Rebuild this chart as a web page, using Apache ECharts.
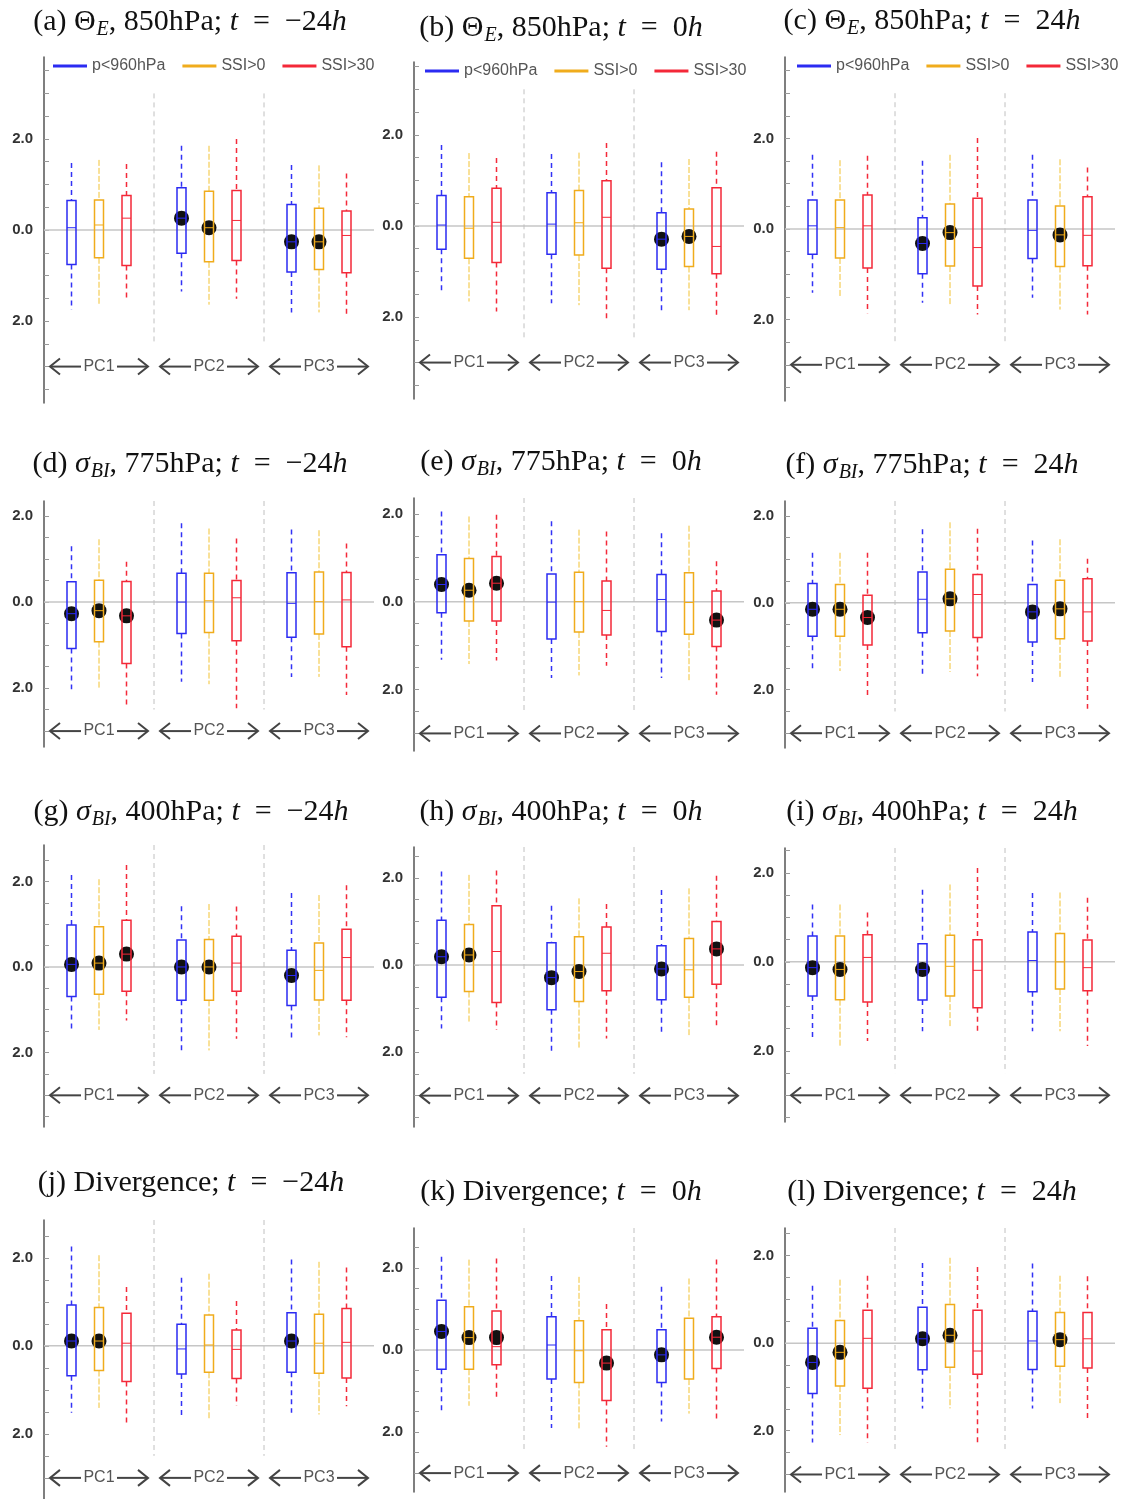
<!DOCTYPE html>
<html>
<head>
<meta charset="utf-8">
<title>PC box plots</title>
<script src="https://cdn.jsdelivr.net/npm/echarts@6/dist/echarts.min.js"></script>
<style>
  html, body { margin: 0; padding: 0; background: #fff; }
  #chart { width: 1121px; height: 1499px; }
</style>
</head>
<body>
<div id="chart"></div>
<script>
const seriesNames = ['p<960hPa', 'SSI>0', 'SSI>30']
const groupLabels = ['PC1', 'PC2', 'PC3']
const yLabels = [-2, 0, 2]

// one row per box: [whisker low, q1, median, q3, whisker high]
// order: PC1 (blue, orange, red), PC2 (...), PC3 (...)
const boxA = [
  [-1.75, -0.76, 0.05, 0.65, 1.47], [-1.64, -0.61, 0.11, 0.66, 1.54], [-1.53, -0.78, 0.26, 0.76, 1.45],
  [-1.35, -0.51, 0.26, 0.93, 1.85], [-1.64, -0.70, 0.05, 0.85, 1.85], [-1.51, -0.67, 0.21, 0.87, 2.00],
  [-1.81, -0.92, -0.26, 0.56, 1.43], [-1.81, -0.87, -0.26, 0.48, 1.42], [-1.90, -0.94, -0.12, 0.42, 1.24]
]
const boxB = [
  [-1.48, -0.51, 0.02, 0.67, 1.78], [-1.66, -0.71, -0.05, 0.64, 1.60], [-1.88, -0.80, 0.08, 0.83, 1.49],
  [-1.70, -0.62, 0.04, 0.73, 1.58], [-1.74, -0.64, 0.07, 0.78, 1.61], [-2.03, -0.93, 0.19, 0.99, 1.82],
  [-1.85, -0.95, -0.29, 0.29, 1.40], [-1.85, -0.89, -0.23, 0.37, 1.47], [-1.98, -1.05, -0.45, 0.84, 1.63]
]
const boxC = [
  [-1.41, -0.56, 0.07, 0.64, 1.64], [-1.52, -0.64, 0.03, 0.64, 1.52], [-1.86, -0.86, 0.07, 0.75, 1.62],
  [-1.63, -0.99, -0.32, 0.25, 1.51], [-1.67, -0.82, -0.08, 0.55, 1.64], [-1.89, -1.26, -0.41, 0.68, 2.01],
  [-1.52, -0.65, -0.03, 0.64, 1.64], [-1.78, -0.83, -0.13, 0.51, 1.54], [-1.89, -0.81, -0.14, 0.71, 1.36]
]
const boxD = [
  [-2.03, -1.08, -0.27, 0.47, 1.30], [-2.00, -0.92, -0.20, 0.51, 1.46], [-2.43, -1.43, -0.32, 0.48, 0.94],
  [-1.85, -0.73, 0.00, 0.67, 1.83], [-1.91, -0.71, 0.03, 0.67, 1.71], [-2.47, -0.90, 0.10, 0.50, 1.48],
  [-1.74, -0.82, -0.03, 0.68, 1.69], [-1.74, -0.74, 0.01, 0.70, 1.67], [-2.16, -1.04, 0.05, 0.69, 1.36]
]
const boxE = [
  [-1.32, -0.25, 0.39, 1.07, 2.05], [-1.42, -0.44, 0.26, 0.98, 1.94], [-1.34, -0.44, 0.42, 1.03, 1.98],
  [-1.74, -0.85, -0.01, 0.63, 1.83], [-1.68, -0.69, 0.00, 0.67, 1.64], [-1.46, -0.76, -0.20, 0.47, 1.60],
  [-1.74, -0.68, 0.05, 0.62, 1.56], [-1.80, -0.74, -0.02, 0.66, 1.73], [-2.12, -1.02, -0.42, 0.24, 0.92]
]
const boxF = [
  [-1.59, -0.77, -0.15, 0.44, 1.15], [-1.57, -0.77, -0.15, 0.42, 1.15], [-2.15, -0.97, -0.34, 0.17, 1.15],
  [-1.65, -0.69, 0.08, 0.71, 1.69], [-1.59, -0.65, 0.09, 0.77, 1.85], [-1.69, -0.80, 0.19, 0.65, 1.70],
  [-1.82, -0.90, -0.21, 0.42, 1.43], [-1.75, -0.83, -0.14, 0.52, 1.46], [-2.44, -0.88, -0.21, 0.55, 1.01]
]
const boxG = [
  [-1.48, -0.69, 0.06, 0.98, 2.15], [-1.47, -0.64, 0.09, 0.94, 2.05], [-1.25, -0.57, 0.30, 1.09, 2.38],
  [-1.99, -0.78, 0.00, 0.63, 1.42], [-1.95, -0.78, 0.00, 0.64, 1.47], [-1.68, -0.57, 0.09, 0.72, 1.41],
  [-1.68, -0.90, -0.20, 0.39, 1.73], [-1.60, -0.77, -0.08, 0.56, 1.68], [-1.64, -0.78, 0.22, 0.88, 1.91]
]
const boxH = [
  [-1.46, -0.74, 0.19, 1.03, 2.15], [-1.30, -0.61, 0.23, 0.93, 2.07], [-1.49, -0.86, 0.31, 1.36, 2.17],
  [-2.03, -1.03, -0.29, 0.51, 1.36], [-1.94, -0.84, -0.15, 0.65, 1.53], [-1.69, -0.59, 0.27, 0.87, 1.40],
  [-1.61, -0.80, -0.09, 0.44, 1.72], [-1.61, -0.74, -0.11, 0.61, 1.76], [-1.42, -0.44, 0.37, 1.00, 2.05]
]
const boxI = [
  [-1.78, -0.77, -0.13, 0.58, 1.29], [-1.93, -0.85, -0.17, 0.58, 1.29], [-1.78, -0.90, 0.10, 0.61, 1.11],
  [-1.56, -0.86, -0.17, 0.41, 1.62], [-1.48, -0.77, -0.10, 0.60, 1.74], [-1.56, -1.03, -0.19, 0.50, 2.11],
  [-1.56, -0.67, 0.03, 0.67, 1.55], [-1.56, -0.61, 0.00, 0.64, 1.56], [-1.89, -0.65, -0.13, 0.49, 1.44]
]
const boxJ = [
  [-1.52, -0.68, 0.11, 0.93, 2.26], [-1.41, -0.56, 0.11, 0.87, 2.06], [-1.82, -0.81, 0.06, 0.74, 1.34],
  [-1.58, -0.64, -0.07, 0.49, 1.55], [-1.67, -0.60, 0.02, 0.70, 1.64], [-1.36, -0.74, -0.08, 0.36, 1.02],
  [-1.52, -0.60, 0.11, 0.75, 1.96], [-1.56, -0.62, 0.06, 0.72, 1.91], [-1.37, -0.73, 0.08, 0.85, 1.78]
]
const boxK = [
  [-1.47, -0.47, 0.45, 1.21, 2.27], [-1.36, -0.47, 0.30, 1.05, 2.20], [-1.23, -0.36, 0.08, 0.95, 2.23],
  [-1.90, -0.71, 0.12, 0.81, 1.80], [-1.94, -0.79, -0.02, 0.71, 1.78], [-2.36, -1.23, -0.32, 0.49, 1.12],
  [-1.74, -0.79, -0.12, 0.49, 1.54], [-1.55, -0.71, 0.00, 0.77, 1.74], [-1.70, -0.45, 0.31, 0.81, 2.20]
]
const boxL = [
  [-2.27, -1.15, -0.44, 0.34, 1.31], [-2.10, -0.98, -0.21, 0.52, 1.45], [-2.27, -1.03, 0.11, 0.75, 1.54],
  [-1.49, -0.61, 0.10, 0.82, 1.83], [-1.49, -0.55, 0.18, 0.88, 1.95], [-2.29, -0.71, -0.18, 0.75, 1.74],
  [-1.49, -0.60, 0.05, 0.73, 1.82], [-1.37, -0.53, 0.08, 0.70, 1.54], [-1.72, -0.57, 0.10, 0.70, 1.53]
]

// black markers (null = no marker), same order as the boxes
const dotA = [null, null, null, 0.26, 0.05, null, -0.26, -0.26, null]
const dotB = [null, null, null, null, null, null, -0.29, -0.23, null]
const dotC = [null, null, null, -0.32, -0.08, null, null, -0.13, null]
const dotD = [-0.27, -0.20, -0.32, null, null, null, null, null, null]
const dotE = [0.39, 0.26, 0.42, null, null, null, null, null, -0.42]
const dotF = [-0.15, -0.15, -0.34, null, 0.09, null, -0.21, -0.14, null]
const dotG = [0.06, 0.09, 0.30, 0.00, 0.00, null, -0.20, null, null]
const dotH = [0.19, 0.23, null, -0.29, -0.15, null, -0.09, null, 0.37]
const dotI = [-0.13, -0.17, null, -0.17, null, null, null, null, null]
const dotJ = [0.11, 0.11, null, null, null, null, 0.11, null, null]
const dotK = [0.45, 0.30, 0.30, null, null, -0.32, -0.12, null, 0.31]
const dotL = [-0.44, -0.21, null, 0.10, 0.18, null, null, 0.08, null]

const panelTitles = [
  '{r|(a) Θ}{sub|E}{r|, 850hPa; }{i|t}{r|\u2002=\u2002−24}{i|h}',
  '{r|(b) Θ}{sub|E}{r|, 850hPa; }{i|t}{r|\u2002=\u20020}{i|h}',
  '{r|(c) Θ}{sub|E}{r|, 850hPa; }{i|t}{r|\u2002=\u200224}{i|h}',
  '{r|(d) }{i|σ}{sub|BI}{r|, 775hPa; }{i|t}{r|\u2002=\u2002−24}{i|h}',
  '{r|(e) }{i|σ}{sub|BI}{r|, 775hPa; }{i|t}{r|\u2002=\u20020}{i|h}',
  '{r|(f) }{i|σ}{sub|BI}{r|, 775hPa; }{i|t}{r|\u2002=\u200224}{i|h}',
  '{r|(g) }{i|σ}{sub|BI}{r|, 400hPa; }{i|t}{r|\u2002=\u2002−24}{i|h}',
  '{r|(h) }{i|σ}{sub|BI}{r|, 400hPa; }{i|t}{r|\u2002=\u20020}{i|h}',
  '{r|(i) }{i|σ}{sub|BI}{r|, 400hPa; }{i|t}{r|\u2002=\u200224}{i|h}',
  '{r|(j) Divergence; }{i|t}{r|\u2002=\u2002−24}{i|h}',
  '{r|(k) Divergence; }{i|t}{r|\u2002=\u20020}{i|h}',
  '{r|(l) Divergence; }{i|t}{r|\u2002=\u200224}{i|h}'
]
const panelBoxes = [boxA, boxB, boxC, boxD, boxE, boxF, boxG, boxH, boxI, boxJ, boxK, boxL]
const panelDots = [dotA, dotB, dotC, dotD, dotE, dotF, dotG, dotH, dotI, dotJ, dotK, dotL]

// grid left, grid top, grid height, y min, y max, title centre x, title centre y
const layout = [
  [44, 57, 346, -3.8, 3.8, 190, 22],
  [414, 62, 337, -3.8, 3.6, 561, 28],
  [785, 57, 344, -3.8, 3.8, 932, 21],
  [44, 501, 246, -3.37, 2.35, 190, 464],
  [414, 498, 253, -3.4, 2.36, 561, 462],
  [785, 501, 247, -3.34, 2.34, 932, 465],
  [44, 845, 282, -3.74, 2.85, 191, 812],
  [414, 847, 280, -3.72, 2.71, 561, 812],
  [785, 848, 274, -3.6, 2.56, 932, 812],
  [44, 1220, 279, -3.48, 2.86, 191, 1183],
  [414, 1228, 264, -3.46, 2.97, 561, 1192],
  [785, 1228, 264, -3.4, 2.63, 932, 1192]
]
const legendPos = [[53, 58], [425, 63], [797, 58]]

const colors = ['#2b2bf2', '#f0ac1c', '#f42838']
const whiskerStyles = [
  { stroke: '#3232f5', lineWidth: 1.5, lineDash: [5, 4] },
  { stroke: '#f2c232', lineWidth: 1, lineDash: [6, 2] },
  { stroke: '#f42a3a', lineWidth: 1.5, lineDash: [5, 4] }
]
const sansFont = 'Liberation Sans, Arial, Helvetica, sans-serif'
const serifFont = 'Liberation Serif, Times New Roman, serif'

function renderBox(color, whisker, dots, s) {
  return function (params, api) {
    const x = api.value(0)
    const lo = api.coord([x, api.value(1)])
    const q1 = api.coord([x, api.value(2)])
    const md = api.coord([x, api.value(3)])
    const q3 = api.coord([x, api.value(4)])
    const hi = api.coord([x, api.value(5)])
    const cx = lo[0]
    const hw = 4.5
    const children = []
    const dot = dots[params.dataIndex * 3 + s]
    if (dot !== null) {
      const d = api.coord([x, dot])
      children.push({ type: 'circle', shape: { cx: cx, cy: d[1], r: 7.5 }, style: { fill: '#111' } })
    }
    children.push({ type: 'line', shape: { x1: cx, y1: hi[1], x2: cx, y2: q3[1] }, style: whisker })
    children.push({ type: 'line', shape: { x1: cx, y1: q1[1], x2: cx, y2: lo[1] }, style: whisker })
    children.push({
      type: 'rect',
      shape: { x: cx - hw, y: q3[1], width: hw * 2, height: q1[1] - q3[1] },
      style: { fill: 'none', stroke: color, lineWidth: 1.5 }
    })
    children.push({ type: 'line', shape: { x1: cx - hw, y1: md[1], x2: cx + hw, y2: md[1] }, style: { stroke: color, lineWidth: 1 } })
    return { type: 'group', children: children }
  }
}

// zero line, group separators and the PC arrows
function renderFrame(yMax) {
  return function (params, api) {
    const children = []
    const z0 = api.coord([0, 0])
    const z1 = api.coord([12, 0])
    children.push({ type: 'line', shape: { x1: z0[0], y1: z0[1], x2: z1[0], y2: z1[1] }, style: { stroke: '#c6c6c6', lineWidth: 1.5 } })
    ;[4, 8].forEach(function (sx) {
      const t = api.coord([sx, Math.min(yMax, 3)])
      const b = api.coord([sx, -2.5])
      children.push({ type: 'line', shape: { x1: t[0], y1: t[1], x2: b[0], y2: b[1] }, style: { stroke: '#c0c0c0', lineWidth: 1, lineDash: [5, 4] } })
    })
    groupLabels.forEach(function (lab, g) {
      const c = api.coord([4 * g + 2, -3])
      const l = api.coord([4 * g, -3])[0] + 6
      const r = api.coord([4 * g + 4, -3])[0] - 6
      const y = c[1]
      const arrow = { stroke: '#444', lineWidth: 2, fill: 'none' }
      children.push({ type: 'text', style: { text: lab, x: c[0], y: y, textAlign: 'center', textVerticalAlign: 'middle', fontSize: 16, fontFamily: sansFont, fill: '#555' } })
      children.push({ type: 'line', shape: { x1: l, y1: y, x2: c[0] - 18, y2: y }, style: arrow })
      children.push({ type: 'polyline', shape: { points: [[l + 10, y - 8], [l, y], [l + 10, y + 8]] }, style: arrow })
      children.push({ type: 'line', shape: { x1: c[0] + 18, y1: y, x2: r, y2: y }, style: arrow })
      children.push({ type: 'polyline', shape: { points: [[r - 10, y - 8], [r, y], [r - 10, y + 8]] }, style: arrow })
    })
    return { type: 'group', children: children }
  }
}

const grid = []
const xAxis = []
const yAxis = []
const series = []
const graphic = []

layout.forEach(function (lay, p) {
  const yMin = lay[3]
  const yMax = lay[4]
  const ticks = []
  for (let v = Math.ceil(yMin * 2) / 2; v <= yMax; v += 0.5) ticks.push(v)

  grid.push({ left: lay[0], top: lay[1], width: 330, height: lay[2] })
  xAxis.push({ gridIndex: p, type: 'value', min: 0, max: 12, show: false })
  yAxis.push({
    gridIndex: p,
    type: 'value',
    min: yMin,
    max: yMax,
    axisLine: { show: true, lineStyle: { color: '#555', width: 1.5 } },
    axisTick: { show: true, inside: true, length: 5, customValues: ticks, lineStyle: { color: '#999' } },
    axisLabel: {
      customValues: yLabels,
      formatter: function (v) { return Math.abs(v).toFixed(1) },
      fontSize: 15,
      fontWeight: 'bold',
      color: '#333',
      margin: 11,
      fontFamily: sansFont
    },
    splitLine: { show: false }
  })

  series.push({
    type: 'custom',
    xAxisIndex: p,
    yAxisIndex: p,
    z: 1,
    silent: true,
    renderItem: renderFrame(yMax),
    data: [[0, 0]]
  })

  const boxes = panelBoxes[p]
  seriesNames.forEach(function (name, s) {
    series.push({
      name: name,
      type: 'custom',
      xAxisIndex: p,
      yAxisIndex: p,
      z: 2,
      itemStyle: { color: colors[s] },
      renderItem: renderBox(colors[s], whiskerStyles[s], panelDots[p], s),
      data: [0, 1, 2].map(function (g) {
        return [4 * g + 1 + s].concat(boxes[g * 3 + s])
      })
    })
  })

  graphic.push({
    type: 'text',
    x: lay[5],
    y: lay[6],
    style: {
      text: panelTitles[p],
      textAlign: 'center',
      textVerticalAlign: 'middle',
      rich: {
        r: { fontFamily: serifFont, fontSize: 30, fill: '#111' },
        i: { fontFamily: serifFont, fontSize: 30, fontStyle: 'italic', fill: '#111' },
        sub: { fontFamily: serifFont, fontSize: 20, fontStyle: 'italic', fill: '#111', padding: [15, 0, 0, 1] }
      }
    }
  })
})

const legend = legendPos.map(function (pos) {
  return {
    left: pos[0],
    top: pos[1],
    padding: 0,
    icon: 'rect',
    itemWidth: 34,
    itemHeight: 3,
    itemGap: 17,
    selectedMode: false,
    data: seriesNames,
    textStyle: { fontSize: 16, color: '#555', fontFamily: sansFont }
  }
})

const chart = echarts.init(document.getElementById('chart'))
chart.setOption({
  animation: false,
  backgroundColor: '#fff',
  grid: grid,
  xAxis: xAxis,
  yAxis: yAxis,
  legend: legend,
  graphic: graphic,
  series: series
})
</script>
</body>
</html>
